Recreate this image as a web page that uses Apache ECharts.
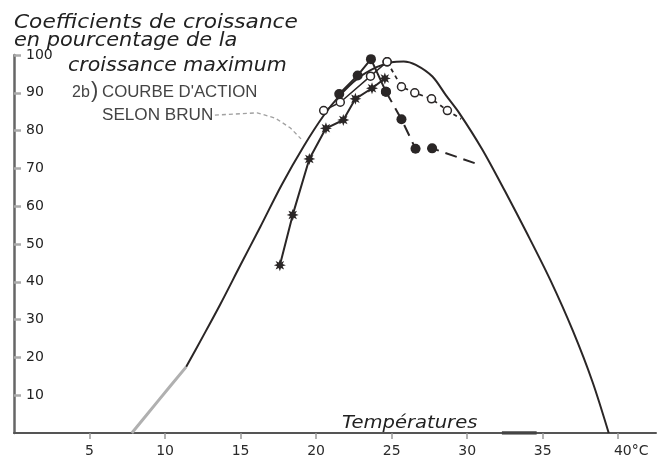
<!DOCTYPE html>
<html>
<head>
<meta charset="utf-8">
<script src="https://cdn.jsdelivr.net/npm/echarts@6/dist/echarts.min.js"></script>
<style>
  html, body { margin: 0; padding: 0; background: #fff; }
  #chart { width: 669px; height: 467px; }
</style>
</head>
<body>
<div id="chart"></div>
<script>
// Growth coefficient (% of maximum growth) against temperature (°C)

// Action curve after Brun: faint low-temperature start, then the full curve
const brunFaint = [[7.8, 0], [9.5, 8.3], [11.4, 17.5]];
const brunCurve = [
  [11.4, 17.5], [12.5, 25.5], [13.65, 34], [15, 44.5], [16.3, 54.5], [17.7, 65.5],
  [19.2, 76], [20.5, 84], [21.5, 89], [22.75, 93.8], [24, 96.8], [25, 98.1],
  [25.8, 98.3], [26.6, 97.4], [27.7, 94.3], [28.6, 89.3], [29.5, 84.5], [31, 75],
  [32.5, 64], [34, 52.5], [35.5, 40.5], [37, 27], [38.3, 13.5], [39.37, 0]
];

// Star-marked series
const starSeries = [
  [17.6, 44.4], [18.45, 57.7], [19.55, 72.5], [20.65, 80.6], [21.8, 82.8],
  [22.6, 88.4], [23.7, 91.2], [24.55, 93.8]
];

// Open-circle series: rising part (solid) and falling part (dotted)
const openRise = [[20.5, 85.3], [21.6, 87.5], [23.6, 94.4], [24.7, 98.2]];
const openFall = [[24.7, 98.2], [25.65, 91.6], [26.53, 90.0], [27.64, 88.4], [28.69, 85.3]];
const openFallEnd = [29.6, 83.1];

// Filled-circle series: rising part (solid) and falling part (dashed)
const filledRise = [[21.53, 89.7], [22.75, 94.6], [23.63, 98.9], [24.62, 90.3]];
const filledFall = [[24.62, 90.3], [25.65, 83.0], [26.58, 75.2], [27.68, 75.3]];
const filledFallEnd = [30.7, 71.1];

// Dashed leader from the "courbe d'action" caption to the curve
const leaderPath = [[13.3, 84.1], [16.1, 84.7], [17.3, 83.3], [18.3, 80.7], [19.0, 77.8]];

// Axis tick labels
const xTickLabels = { 5: '5', 10: '10', 15: '15', 20: '20', 25: '25', 30: '30', 35: '35', 40: '{unit|40°C}' };
const yTickLabels = { 10: '10', 20: '20', 30: '30', 40: '40', 50: '50', 60: '60', 70: '70', 80: '80', 90: '90', 100: '100' };

const ink = '#2a2626';
const handFont = 'DejaVu Sans';

// eight-point star marker built from polar points
function starPath(points, rOut, rIn) {
  let d = '';
  for (let i = 0; i < points * 2; i++) {
    const r = i % 2 === 0 ? rOut : rIn;
    const a = Math.PI * i / points - Math.PI / 2;
    d += (i === 0 ? 'M' : 'L') + (r * Math.cos(a)).toFixed(2) + ' ' + (r * Math.sin(a)).toFixed(2) + ' ';
  }
  return 'path://' + d + 'Z';
}
const starSymbol = starPath(8, 10, 5);

const chart = echarts.init(document.getElementById('chart'), null, { renderer: 'canvas' });

const titleFont = 'italic 19px "DejaVu Sans"';
const captionFont = '16px "Liberation Sans"';

chart.setOption({
  animation: false,
  backgroundColor: '#ffffff',
  grid: { left: 14, right: 13, top: 55, bottom: 34, containLabel: false },
  xAxis: {
    type: 'value', min: 0, max: 42.5, interval: 5,
    axisLine: { show: true, lineStyle: { color: '#555', width: 2 } },
    axisTick: { show: true, length: 6, lineStyle: { color: '#999', width: 1.5 } },
    axisLabel: {
      showMinLabel: false, showMaxLabel: false, margin: 11,
      color: '#2a2a2a', fontSize: 14, fontFamily: handFont,
      formatter: v => xTickLabels[v] || '',
      rich: { unit: { fontSize: 14, fontFamily: handFont, color: '#2a2a2a', padding: [0, 0, 0, 26] } }
    },
    splitLine: { show: false }
  },
  yAxis: {
    type: 'value', min: 0, max: 100, interval: 10,
    axisLine: { show: true, lineStyle: { color: '#666', width: 2.5 } },
    axisTick: { show: true, inside: true, length: 7, lineStyle: { color: '#aaa', width: 2.5 } },
    axisLabel: {
      inside: true, showMinLabel: false, margin: 12,
      color: '#222', fontSize: 14, fontFamily: handFont,
      formatter: v => yTickLabels[v] || ''
    },
    splitLine: { show: false }
  },
  series: [
    {
      type: 'line', data: brunFaint, smooth: 0.3, symbol: 'none',
      lineStyle: { color: '#b0b0b0', width: 3 }, z: 2
    },
    {
      type: 'line', data: brunCurve, smooth: 0.3, symbol: 'none',
      lineStyle: { color: ink, width: 2 }, z: 3
    },
    {
      type: 'line', data: [[32.3, 0], [34.6, 0]], symbol: 'none',
      lineStyle: { color: '#444', width: 3.5 }, z: 1
    },
    {
      type: 'line', data: starSeries, symbol: starSymbol, symbolSize: 12,
      itemStyle: { color: ink }, lineStyle: { color: ink, width: 2 }, z: 4
    },
    {
      type: 'line', data: openRise, symbol: 'circle', symbolSize: 8,
      itemStyle: { color: '#fff', borderColor: ink, borderWidth: 1.5 },
      lineStyle: { color: ink, width: 1.5 }, z: 5
    },
    {
      type: 'line',
      data: openFall.concat([{ value: openFallEnd, symbol: 'none' }]),
      symbol: 'circle', symbolSize: 8,
      itemStyle: { color: '#fff', borderColor: ink, borderWidth: 1.5 },
      lineStyle: { color: ink, width: 1.8, type: [4, 4] }, z: 5
    },
    {
      type: 'line', data: filledRise, symbol: 'circle', symbolSize: 10,
      itemStyle: { color: ink }, lineStyle: { color: ink, width: 2 }, z: 6
    },
    {
      type: 'line',
      data: filledFall.concat([{ value: filledFallEnd, symbol: 'none' }]),
      symbol: 'circle', symbolSize: 10,
      itemStyle: { color: ink }, lineStyle: { color: ink, width: 2, type: [12, 7] }, z: 6
    },
    {
      type: 'lines', coordinateSystem: 'cartesian2d', polyline: true,
      symbol: ['none', 'arrow'], symbolSize: 9,
      lineStyle: { color: '#444', width: 1.3, type: [4, 3], curveness: 0 },
      data: [{ coords: leaderPath }], z: 7
    }
  ],
  graphic: [
    { type: 'text', left: 14, top: 14, scaleX: 1.14, style: { text: 'Coefficients de croissance', font: titleFont, fill: '#222' } },
    { type: 'text', left: 14, top: 32, scaleX: 1.1, style: { text: 'en pourcentage de la', font: titleFont, fill: '#222' } },
    { type: 'text', left: 68, top: 57, scaleX: 1.08, style: { text: 'croissance maximum', font: titleFont, fill: '#222' } },
    { type: 'text', left: 342, top: 415, scaleX: 1.15, style: { text: 'Températures', font: 'italic 17px "DejaVu Sans"', fill: '#222' } },
    { type: 'text', left: 72, top: 85, style: { text: '2b', font: captionFont, fill: '#444' } },
    { type: 'text', left: 91, top: 80, style: { text: ')', font: '22px "Liberation Sans"', fill: '#444' } },
    { type: 'text', left: 102, top: 85, scaleX: 1.05, style: { text: "COURBE D'ACTION", font: captionFont, fill: '#444' } },
    { type: 'text', left: 102, top: 108, scaleX: 1.07, style: { text: 'SELON BRUN', font: captionFont, fill: '#444' } }
  ]
});
</script>
</body>
</html>
